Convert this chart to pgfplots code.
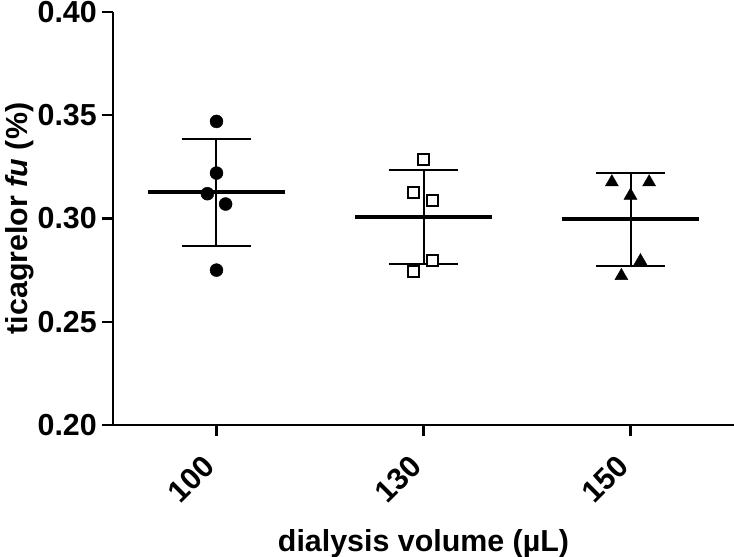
\documentclass[border=0pt]{standalone}
\usepackage{pgfplots}
\pgfplotsset{compat=1.18}
\usepackage{fontspec}
\setmainfont{Liberation Sans}
\begin{document}
\begin{tikzpicture}
\begin{axis}[
  scale only axis, width=621bp, height=413bp,
  xmin=-0.5, xmax=2.5, ymin=0.2, ymax=0.4,
  axis x line*=bottom, axis y line*=left,
  axis line style={line width=2.5bp, black, -},
  xtick={0,1,2}, xticklabels={100,130,150},
  ytick={0.20,0.25,0.30,0.35,0.40},
  yticklabels={0.20,0.25,0.30,0.35,0.40},
  tick align=outside, major tick length=11bp,
  tick style={line width=2.5bp, black},
  ticklabel style={font=\fontsize{30.5}{36}\selectfont\bfseries, inner sep=0pt},
  yticklabel style={anchor=east, xshift=-5bp},
  xticklabel style={xshift=-7bp, yshift=-25bp, rotate=45, anchor=east},
  label style={font=\fontsize{30.5}{36}\selectfont\bfseries},
  xlabel={dialysis volume (µL)},
  ylabel={ticagrelor \textit{fu} (\%)},
  xlabel style={at={(axis description cs:0.5,-0.3075)}, anchor=base},
  ylabel style={at={(axis description cs:-0.1369,0.5)}, anchor=base, rotate=0},
  clip=false,
]
% group 100
\addplot[line width=4bp, black] coordinates {(-0.33,0.3126) (0.33,0.3126)};
\addplot[line width=2bp, black] coordinates {(0,0.2865) (0,0.3387)};
\addplot[line width=2bp, black] coordinates {(-0.167,0.3387) (0.167,0.3387)};
\addplot[line width=2bp, black] coordinates {(-0.167,0.2865) (0.167,0.2865)};
% group 130
\addplot[line width=4bp, black] coordinates {(0.67,0.3007) (1.33,0.3007)};
\addplot[line width=2bp, black] coordinates {(1,0.2778) (1,0.3237)};
\addplot[line width=2bp, black] coordinates {(0.833,0.3237) (1.167,0.3237)};
\addplot[line width=2bp, black] coordinates {(0.833,0.2778) (1.167,0.2778)};
% group 150
\addplot[line width=4bp, black] coordinates {(1.67,0.2996) (2.33,0.2996)};
\addplot[line width=2bp, black] coordinates {(2,0.2772) (2,0.3220)};
\addplot[line width=2bp, black] coordinates {(1.833,0.3220) (2.167,0.3220)};
\addplot[line width=2bp, black] coordinates {(1.833,0.2772) (2.167,0.2772)};
% points
\addplot[only marks, mark=*, mark size=6.5bp, black] coordinates {
  (0,0.347) (0,0.322) (-0.044,0.312) (0.044,0.307) (0,0.275)};
\addplot[only marks, mark=square*, mark size=5.5bp, black, line width=2bp,
  mark options={fill=white}] coordinates {
  (1,0.3285) (0.954,0.3125) (1.044,0.3085) (1.044,0.2797) (0.954,0.2745)};
\addplot[only marks, mark=triangle*, mark size=7.5bp, black] coordinates {
  (1.91,0.3176) (2.09,0.3176) (2,0.3111) (2.048,0.2794) (1.956,0.2722)};
\end{axis}
\pgfresetboundingbox
\path[use as bounding box] (-113bp,-132bp) rectangle (621bp,425bp);
\end{tikzpicture}
\end{document}
